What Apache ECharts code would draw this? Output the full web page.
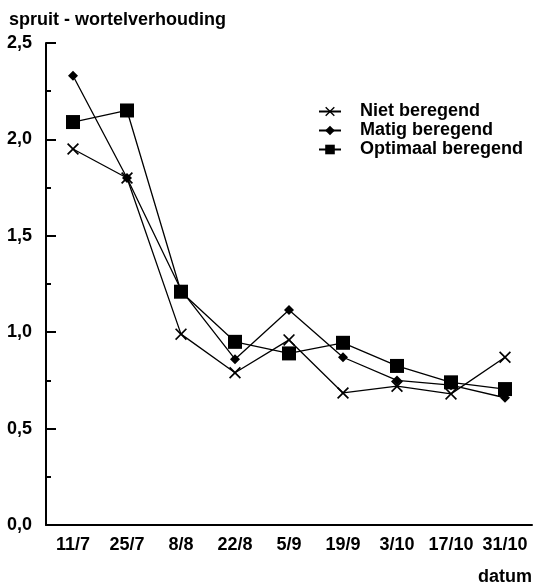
<!DOCTYPE html>
<html>
<head>
<meta charset="utf-8">
<script src="https://cdn.jsdelivr.net/npm/echarts@6/dist/echarts.min.js"></script>
<style>
  html, body { margin: 0; padding: 0; background: #fff; }
  #chart { width: 541px; height: 584px; }
</style>
</head>
<body>
<div id="chart"></div>
<script>
// datums van de metingen
const dates = ['11/7', '25/7', '8/8', '22/8', '5/9', '19/9', '3/10', '17/10', '31/10']

// spruit - wortelverhouding per behandeling
const nietBeregend = [1.95, 1.80, 0.99, 0.79, 0.96, 0.685, 0.72, 0.68, 0.87]
const matigBeregend = [2.33, 1.80, 1.22, 0.86, 1.115, 0.87, 0.75, 0.725, 0.66]
const optimaalBeregend = [2.09, 2.15, 1.21, 0.95, 0.89, 0.945, 0.825, 0.74, 0.705]

const font = 'Liberation Sans, Arial, sans-serif'
const crossPath = 'path://M0,1L1,0L5,4L9,0L10,1L6,5L10,9L9,10L5,6L1,10L0,9L4,5Z'

const myChart = echarts.init(document.getElementById('chart'))

const makeSeries = (name, data, symbol, size) => ({
  name,
  type: 'line',
  data,
  symbol,
  symbolSize: size,
  showAllSymbol: true,
  lineStyle: { color: '#000', width: 1.3 },
  itemStyle: { color: '#000' },
  emphasis: { disabled: true },
  animation: false
})

const labelStyle = { fontFamily: font, fontSize: 18, fontWeight: 'bold', color: '#000' }

myChart.setOption({
  backgroundColor: '#fff',
  textStyle: { fontFamily: font, color: '#000' },
  title: [
    {
      text: 'spruit - wortelverhouding',
      left: 9,
      top: 11,
      padding: 0,
      textStyle: labelStyle
    },
    {
      text: 'datum',
      right: 9,
      top: 568,
      padding: 0,
      textStyle: labelStyle
    }
  ],
  legend: {
    orient: 'vertical',
    left: 318,
    top: 102,
    itemWidth: 22,
    itemHeight: 12,
    itemGap: 0,
    padding: 0,
    textStyle: {
      ...labelStyle,
      lineHeight: 19,
      padding: [0, 0, 0, 14]
    },
    data: ['Niet beregend', 'Matig beregend', 'Optimaal beregend']
  },
  grid: {
    left: 46,
    right: 9,
    top: 43,
    bottom: 59
  },
  xAxis: [
    {
      type: 'category',
      data: dates,
      boundaryGap: true,
      axisLine: { lineStyle: { color: '#000', width: 2 } },
      axisTick: { interval: 0, alignWithLabel: true, inside: true, length: 9, lineStyle: { color: '#000', width: 2 } },
      axisLabel: { interval: 0, margin: 11, ...labelStyle },
      splitLine: { show: false }
    },
    {
      // kleine streepjes tussen de datums
      type: 'category',
      data: dates,
      position: 'bottom',
      boundaryGap: true,
      axisLine: { show: false },
      axisTick: { interval: 0, inside: true, length: 4, lineStyle: { color: '#000', width: 2 } },
      axisLabel: { show: false },
      splitLine: { show: false }
    }
  ],
  yAxis: [
    {
      type: 'value',
      min: 0,
      max: 2.5,
      interval: 0.5,
      position: 'left',
      axisLine: { show: true, lineStyle: { color: '#000', width: 2 } },
      axisTick: { show: true, inside: true, length: 10, lineStyle: { color: '#000', width: 2 } },
      axisLabel: {
        margin: 14,
        ...labelStyle,
        formatter: (v) => v.toFixed(1).replace('.', ',')
      },
      splitLine: { show: false }
    },
    {
      // tussenstreepjes per 0,25
      type: 'value',
      min: 0,
      max: 2.5,
      interval: 0.25,
      position: 'left',
      offset: 0,
      axisLine: { show: false },
      axisTick: { show: true, inside: true, length: 5, lineStyle: { color: '#000', width: 2 } },
      axisLabel: { show: false },
      splitLine: { show: false }
    }
  ],
  series: [
    makeSeries('Niet beregend', nietBeregend, crossPath, 12),
    makeSeries('Matig beregend', matigBeregend, 'diamond', 10),
    makeSeries('Optimaal beregend', optimaalBeregend, 'rect', 14)
  ]
})
</script>
</body>
</html>
